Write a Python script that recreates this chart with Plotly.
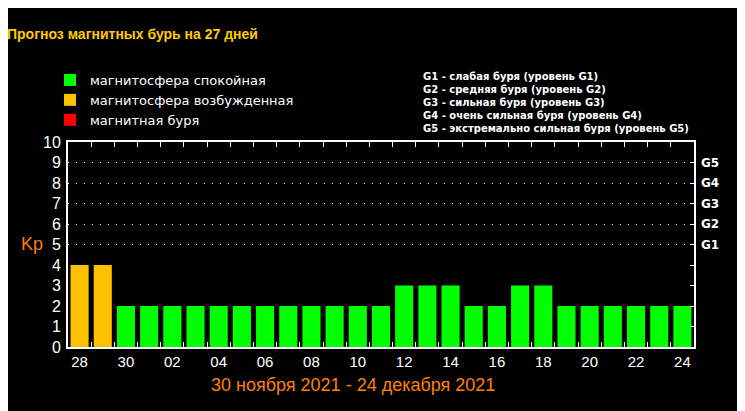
import plotly.graph_objects as go

# forecast days (28 Nov - 24 Dec 2021) and Kp index
days = ["28", "29", "30", "01", "02", "03", "04", "05", "06", "07", "08", "09",
        "10", "11", "12", "13", "14", "15", "16", "17", "18", "19", "20", "21",
        "22", "23", "24"]
kp = [4, 4, 2, 2, 2, 2, 2, 2, 2, 2, 2, 2, 2, 2, 3, 3, 3, 2, 2, 3, 3, 2, 2, 2, 2, 2, 2]

storm_levels = [5, 6, 7, 8, 9]
storm_labels = ["G1", "G2", "G3", "G4", "G5"]
storm_notes = [
    "G1 - слабая буря (уровень G1)",
    "G2 - средняя буря (уровень G2)",
    "G3 - сильная буря (уровень G3)",
    "G4 - очень сильная буря (уровень G4)",
    "G5 - экстремально сильная буря (уровень G5)",
]
day_ticks = [d if i % 2 == 0 else "" for i, d in enumerate(days)]

GREEN = "#00ff00"
ORANGE = "#ffc000"
RED = "#ff0000"

calm = [(d, v) for d, v in zip(days, kp) if v < 4]
active = [(d, v) for d, v in zip(days, kp) if v == 4]
storm = [(d, v) for d, v in zip(days, kp) if v >= 5]

fig = go.Figure()
for pts, name, color in [
    (calm, "магнитосфера спокойная", GREEN),
    (active, "магнитосфера возбужденная", ORANGE),
    (storm, "магнитная буря", RED),
]:
    xs = [p[0] for p in pts]
    ys = [p[1] for p in pts]
    if not pts:
        # keep the legend entry even when no day reaches this level
        xs, ys = days[:1], [None]
    fig.add_trace(
        go.Bar(
            x=xs,
            y=ys,
            name=name,
            marker_color=color,
            marker_line_width=0,
        )
    )

# invisible traces so the extra y axes get drawn
fig.add_trace(go.Scatter(x=days[:1], y=[0], yaxis="y2", mode="markers",
                         marker_opacity=0, showlegend=False, hoverinfo="skip"))
fig.add_trace(go.Scatter(x=days[:1], y=[0], yaxis="y3", mode="markers",
                         marker_opacity=0, showlegend=False, hoverinfo="skip"))

axis_font = dict(family="Liberation Sans, Arial", size=16, color="white")

# the page adds an 8px body margin, so the plot box is pulled up/left by 8px
fig.update_layout(
    width=745,
    height=411,
    paper_bgcolor="black",
    plot_bgcolor="black",
    margin=dict(l=60, r=59, t=134, b=72, autoexpand=False),
    barmode="overlay",
    bargap=0.22,
    legend=dict(
        xref="container", x=42 / 745, xanchor="left",
        yref="container", y=1 - 57 / 411, yanchor="top",
        bgcolor="rgba(0,0,0,0)",
        font=dict(family="DejaVu Sans", size=13, color="white"),
        traceorder="normal",
    ),
    xaxis=dict(
        type="category",
        categoryorder="array",
        categoryarray=days,
        range=[-0.5, len(days) - 0.5],
        tickmode="array",
        tickvals=days,
        ticktext=day_ticks,
        tickangle=0,
        tickson="boundaries",
        ticks="inside",
        ticklen=5,
        tickcolor="white",
        showline=True,
        linecolor="white",
        linewidth=2,
        mirror="ticks",
        showgrid=False,
        tickfont=dict(family="Liberation Sans, Arial", size=15, color="white"),
    ),
    yaxis=dict(
        range=[0, 10],
        tickvals=list(range(11)),
        ticks="",
        showgrid=False,
        zeroline=False,
        showline=True,
        linecolor="white",
        linewidth=2,
        mirror=True,
        tickfont=axis_font,
        ticklabelstandoff=2,
    ),
    yaxis2=dict(
        overlaying="y",
        side="right",
        range=[0, 10],
        tickvals=list(range(1, 10)),
        ticktext=["", "", "", ""] + storm_labels,
        ticks="inside",
        ticklen=4,
        tickcolor="white",
        showgrid=False,
        zeroline=False,
        tickfont=dict(family="DejaVu Sans", size=12, color="white", weight="bold"),
        ticklabelstandoff=6,
    ),
    yaxis3=dict(
        overlaying="y",
        range=[0, 10],
        tickvals=storm_levels,
        showticklabels=False,
        showgrid=True,
        gridcolor="white",
        griddash="1px,7px",
        gridwidth=1,
        zeroline=False,
    ),
    showlegend=True,
)

fig.add_annotation(
    text="<b>Прогноз магнитных бурь на 27 дней</b>",
    xref="paper", yref="paper",
    x=(5 - 68) / 626, y=(347 - 34) / 205,
    xanchor="left", yanchor="middle",
    showarrow=False,
    font=dict(family="Liberation Sans, Arial", size=14, color="#ffcc00"),
)
fig.add_annotation(
    text="<b>" + "<br>".join(storm_notes) + "</b>",
    xref="paper", yref="paper",
    x=(421 - 68) / 626, y=(347 - 69) / 205,
    xanchor="left", yanchor="top",
    align="left", showarrow=False,
    font=dict(family="DejaVu Sans", size=10, color="white"),
)
fig.add_annotation(
    text="Kp",
    xref="paper", yref="paper",
    x=(32 - 68) / 626, y=(347 - 244) / 205,
    xanchor="center", yanchor="middle",
    showarrow=False,
    font=dict(family="Liberation Sans, Arial", size=18, color="#ff8000"),
)
fig.add_annotation(
    text="30 ноября 2021 - 24 декабря 2021",
    xref="paper", yref="paper",
    x=(353 - 68) / 626, y=(347 - 385) / 205,
    xanchor="center", yanchor="middle",
    showarrow=False,
    font=dict(family="Liberation Sans, Arial", size=18, color="#ff8000"),
)

fig.write_html("out.html")
